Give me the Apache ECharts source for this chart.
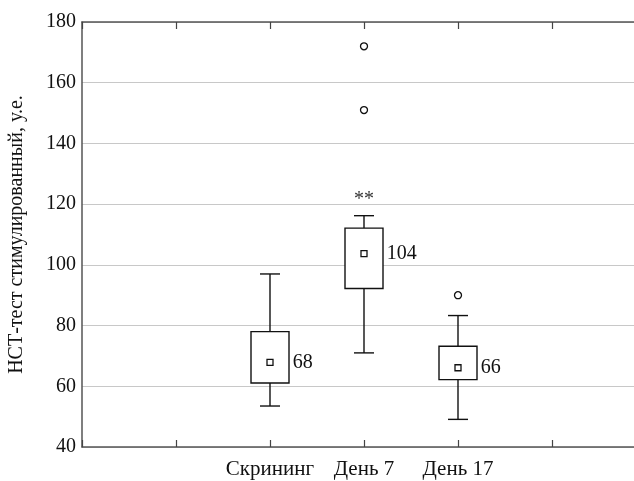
<!DOCTYPE html>
<html><head><meta charset="utf-8">
<script src="https://cdn.jsdelivr.net/npm/echarts@6/dist/echarts.min.js"></script>
<style>html,body{margin:0;padding:0;background:#fff;overflow:hidden}#c{width:634px;height:481px}</style>
</head><body><div id="c"></div>
<script>
const categories = ['', '', 'Скрининг', 'День 7', 'День 17', '', ''];
const groupIndex = [2, 3, 4];
const whiskerLow = [53.5, 71.0, 49.1];
const q1 = [61.1, 92.2, 62.2];
const q3 = [78.0, 112.1, 73.2];
const whiskerHigh = [97.0, 116.2, 83.3];
const means = [67.9, 103.7, 66.1];
const meanLabels = ['68', '104', '66'];
const outliers = [[3, 172], [3, 151], [4, 90]];
const significance = [[3, 121.3, '**']];
const yMin = 40, yMax = 180, yInterval = 20;
const yName = 'НСТ-тест стимулированный, у.е.';

const FONT = "'Liberation Serif', 'Times New Roman', serif";
const INK = '#111';

const boxData = groupIndex.map((g, i) => [g, whiskerLow[i], q1[i], q3[i], whiskerHigh[i]]);
const meanData = groupIndex.map((g, i) => ({value: [g, means[i]], label: {formatter: meanLabels[i]}}));

const chart = echarts.init(document.getElementById('c'), null, {renderer: 'canvas'});
chart.setOption({
  animation: false,
  backgroundColor: '#fff',
  grid: {left: 82, right: -12, top: 22, bottom: 34, containLabel: false, outerBoundsMode: 'none'},
  xAxis: [{
    type: 'category', data: categories, boundaryGap: false, position: 'bottom',
    axisLine: {lineStyle: {color: '#555', width: 1.5}},
    axisTick: {inside: true, length: 7, lineStyle: {color: '#444', width: 1.2}},
    axisLabel: {color: INK, fontFamily: FONT, fontSize: 21, margin: 12, interval: 0},
    splitLine: {show: false}
  }, {
    type: 'category', data: categories, boundaryGap: false, position: 'top',
    axisLine: {lineStyle: {color: '#555', width: 1.5}},
    axisTick: {inside: true, length: 7, lineStyle: {color: '#444', width: 1.2}},
    axisLabel: {show: false},
    splitLine: {show: false}
  }],
  yAxis: {
    type: 'value', min: yMin, max: yMax, interval: yInterval,
    name: yName, nameLocation: 'middle', nameGap: 55, nameRotate: 90,
    nameTextStyle: {color: INK, fontFamily: FONT, fontSize: 20},
    axisLine: {show: true, lineStyle: {color: '#555', width: 1.5}},
    axisTick: {show: false},
    axisLabel: {color: INK, fontFamily: FONT, fontSize: 20, margin: 6},
    splitLine: {show: true, lineStyle: {color: '#c8c8c8', width: 1.2}}
  },
  series: [{
    type: 'custom',
    data: boxData,
    encode: {x: 0, y: [1, 2, 3, 4]},
    z: 3,
    renderItem: function (params, api) {
      const x = api.value(0);
      const lo = api.coord([x, api.value(1)]);
      const b1 = api.coord([x, api.value(2)]);
      const b3 = api.coord([x, api.value(3)]);
      const hi = api.coord([x, api.value(4)]);
      const bw = 38, cw = 20, cx = lo[0];
      const st = {stroke: INK, lineWidth: 1.4, fill: null};
      return {type: 'group', children: [
        {type: 'line', shape: {x1: cx, y1: hi[1], x2: cx, y2: b3[1]}, style: st},
        {type: 'line', shape: {x1: cx, y1: b1[1], x2: cx, y2: lo[1]}, style: st},
        {type: 'line', shape: {x1: cx - cw / 2, y1: hi[1], x2: cx + cw / 2, y2: hi[1]}, style: st},
        {type: 'line', shape: {x1: cx - cw / 2, y1: lo[1], x2: cx + cw / 2, y2: lo[1]}, style: st},
        {type: 'rect', shape: {x: cx - bw / 2, y: b3[1], width: bw, height: b1[1] - b3[1]},
         style: {stroke: INK, lineWidth: 1.4, fill: '#fff'}}
      ]};
    }
  }, {
    type: 'scatter', data: meanData, symbol: 'rect', symbolSize: 6, z: 5,
    itemStyle: {color: '#fff', borderColor: INK, borderWidth: 1.3, opacity: 1},
    label: {show: true, position: 'right', distance: 19, color: INK, fontFamily: FONT, fontSize: 20, opacity: 1}
  }, {
    type: 'scatter', data: outliers, symbol: 'circle', symbolSize: 7, z: 5,
    itemStyle: {color: '#fff', borderColor: INK, borderWidth: 1.3, opacity: 1}
  }, {
    type: 'scatter', data: significance.map(d => ({value: [d[0], d[1]], label: {formatter: d[2]}})),
    symbolSize: 1, z: 5, itemStyle: {color: 'rgba(0,0,0,0)', opacity: 1},
    label: {show: true, position: 'inside', color: '#333', fontFamily: FONT, fontSize: 20, opacity: 1}
  }]
});
</script></body></html>
